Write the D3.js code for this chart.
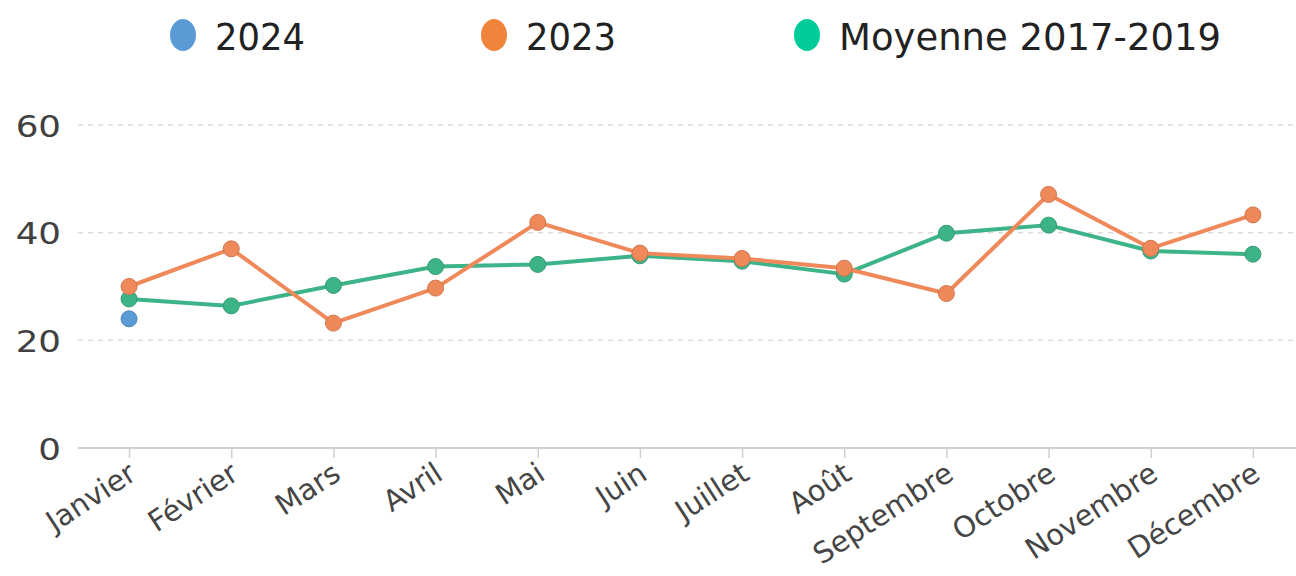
<!DOCTYPE html>
<html>
<head>
<meta charset="utf-8">
<script src="https://cdn.jsdelivr.net/npm/d3@7"></script>
<style>
  body { margin: 0; background: #fff; }
  svg, svg text { font-family: "DejaVu Sans", Verdana, sans-serif; }
</style>
</head>
<body>
<svg id="chart" width="1296" height="576"></svg>
<script>
// Data
const months = ['Janvier', 'Février', 'Mars', 'Avril', 'Mai', 'Juin', 'Juillet', 'Août', 'Septembre', 'Octobre', 'Novembre', 'Décembre'];
const values2024 = [24.0];
const values2023 = [30.0, 37.0, 23.2, 29.7, 41.9, 36.2, 35.2, 33.4, 28.7, 47.1, 37.1, 43.3];
const valuesAvg = [27.7, 26.4, 30.2, 33.7, 34.1, 35.7, 34.7, 32.3, 39.9, 41.4, 36.6, 36.0];
const yTicks = [0, 20, 40, 60];

const series = [
  { name: '2024', values: values2024, color: '#5b9bd5', legend: '#5b9bd5' },
  { name: '2023', values: values2023, color: '#f0895a', legend: '#f0843a' },
  { name: 'Moyenne 2017-2019', values: valuesAvg, color: '#3db388', legend: '#00cc99' }
];

const svg = d3.select('#chart');

const x = d3.scalePoint().domain(months).range([78, 1304]).padding(0.5);
const y = d3.scaleLinear().domain([0, 60]).range([448, 125]);

// Gridlines
svg.append('g')
  .selectAll('line')
  .data(yTicks.filter(d => d > 0))
  .join('line')
  .attr('x1', 78).attr('x2', 1296)
  .attr('y1', d => y(d)).attr('y2', d => y(d))
  .attr('stroke', '#dcdcdc')
  .attr('stroke-width', 1.5)
  .attr('stroke-dasharray', '5,5');

// Y axis labels
const yAxis = svg.append('g')
  .attr('transform', 'translate(63,0)')
  .call(d3.axisLeft(y).tickValues(yTicks).tickSize(0).tickPadding(0));
yAxis.attr('font-family', null);
yAxis.select('.domain').remove();
yAxis.selectAll('text')
  .attr('fill', '#404040')
  .style('font-size', '31px')
  .attr('dy', '0.36em')
  .attr('transform', 'translate(-2,0) scale(1.15,1)');

// X axis
const xAxis = svg.append('g')
  .attr('transform', `translate(0,${y(0)})`)
  .call(d3.axisBottom(x).tickSize(10).tickSizeOuter(0));
xAxis.attr('font-family', null);
xAxis.select('.domain')
  .attr('d', 'M78,0H1296')
  .attr('stroke', '#d0d0d0')
  .attr('stroke-width', 2);
xAxis.selectAll('.tick line').attr('stroke', '#d0d0d0').attr('stroke-width', 1.5);
xAxis.selectAll('.tick text')
  .attr('fill', '#454545')
  .style('font-size', '29px')
  .attr('text-anchor', 'end')
  .attr('transform', 'translate(-6,8) rotate(-33)')
  .attr('dy', '0.71em')
  .attr('y', 6)
  .attr('x', 0);

// Lines and dots
const line = d3.line()
  .x((d, i) => x(months[i]))
  .y(d => y(d));

series.slice().reverse().forEach(s => {
  const g = svg.append('g');
  if (s.values.length > 1) {
    g.append('path')
      .datum(s.values)
      .attr('fill', 'none')
      .attr('stroke', s.color)
      .attr('stroke-width', 4)
      .attr('stroke-linejoin', 'round')
      .attr('d', line);
  }
  g.selectAll('circle')
    .data(s.values)
    .join('circle')
    .attr('cx', (d, i) => x(months[i]))
    .attr('cy', d => y(d))
    .attr('r', 8)
    .attr('fill', s.color)
    .attr('stroke', d3.color(s.color).darker(0.4))
    .attr('stroke-width', 1);
});

// Legend
const legendX = [183, 494, 807];
const legend = svg.append('g')
  .selectAll('g')
  .data(series)
  .join('g')
  .attr('transform', (d, i) => `translate(${legendX[i]},35)`);
legend.append('ellipse')
  .attr('rx', 13).attr('ry', 16)
  .attr('fill', d => d.legend);
legend.append('text')
  .attr('x', 32)
  .attr('y', 15)
  .attr('fill', '#222')
  .style('font-size', '38px')
  .attr('textLength', d => d.name === '2024' || d.name === '2023' ? 90 : 382)
  .attr('lengthAdjust', 'spacingAndGlyphs')
  .text(d => d.name);
</script>
</body>
</html>
